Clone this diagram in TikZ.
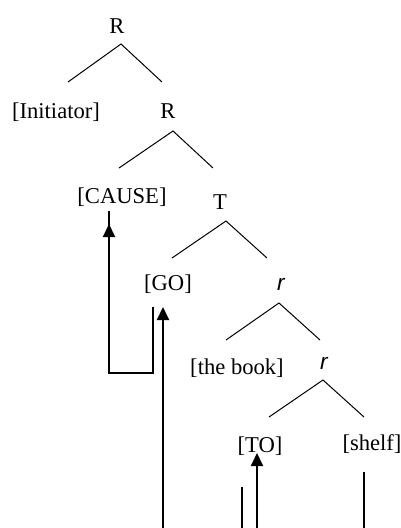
\documentclass[tikz,border=0pt]{standalone}
\usepackage{fontspec}
\setmainfont{Liberation Serif}
\setsansfont{Liberation Sans}
\usetikzlibrary{arrows.meta}
\tikzset{
  lbl/.style={anchor=base, inner sep=0pt, font=\fontsize{22.6}{26}\selectfont},
  ilbl/.style={anchor=base, inner sep=0pt, font=\fontsize{22.6}{26}\selectfont\sffamily\itshape},
  branch/.style={line width=1pt},
  thin/.style={line width=1.1pt},
  lpath/.style={line width=1.7pt},
  mv/.style={line width=2pt, -{Triangle[length=13pt,width=12pt]}},
}
\begin{document}
\begin{tikzpicture}[x=1pt,y=-1pt]
\useasboundingbox (0,0) rectangle (401,528);
% labels
\node[lbl] (R1) at (117,33) {R};
\node[lbl] (init) at (56,118) {[Initiator]};
\node[lbl] (R2) at (168,118) {R};
\node[lbl] (cause) at (122,203) {[CAUSE]};
\node[lbl] (T) at (220,209) {T};
\node[lbl] (go) at (168,290) {[GO]};
\node[ilbl] (r1) at (281,290) {r};
\node[lbl] (book) at (237,374) {[the book]};
\node[ilbl] (r2) at (324,369) {r};
\node[lbl] (to) at (260,452) {[TO]};
\node[lbl] (shelf) at (372,450) {[shelf]};
% branch points
\coordinate (a1) at (121,44);  \coordinate (l1) at (68,82);   \coordinate (e1) at (162,82);
\coordinate (a2) at (173,131); \coordinate (l2) at (119,168); \coordinate (e2) at (213,168);
\coordinate (a3) at (226,221); \coordinate (l3) at (172,258); \coordinate (e3) at (267,258);
\coordinate (a4) at (279,303); \coordinate (l4) at (226,340); \coordinate (e4) at (320,340);
\coordinate (a5) at (323,380); \coordinate (l5) at (269,417); \coordinate (e5) at (364,417);
\draw[branch] (l1) -- (a1) -- (e1);
\draw[branch] (l2) -- (a2) -- (e2);
\draw[branch] (l3) -- (a3) -- (e3);
\draw[branch] (l4) -- (a4) -- (e4);
\draw[branch] (l5) -- (a5) -- (e5);
% movement lines
\coordinate (goT) at (153,307);
\coordinate (goC) at (153,373);
\coordinate (cC) at (109,373);
\coordinate (cT) at (109,224);
\draw[lpath, line join=miter] (goT) -- (goC) -- (cC) -- ([yshift=13pt]cT);
\draw[mv] (cC) -- (cT);
\coordinate (b1) at (163,528); \coordinate (t1) at (163,307);
\draw[mv] (b1) -- (t1);
\coordinate (b2) at (242,528); \coordinate (t2) at (242,487);
\draw[thin] (b2) -- (t2);
\coordinate (b3) at (257,528); \coordinate (t3) at (257,453);
\draw[mv] (b3) -- (t3);
\coordinate (b4) at (364,528); \coordinate (t4) at (364,472);
\draw[thin] (b4) -- (t4);
\end{tikzpicture}
\end{document}
